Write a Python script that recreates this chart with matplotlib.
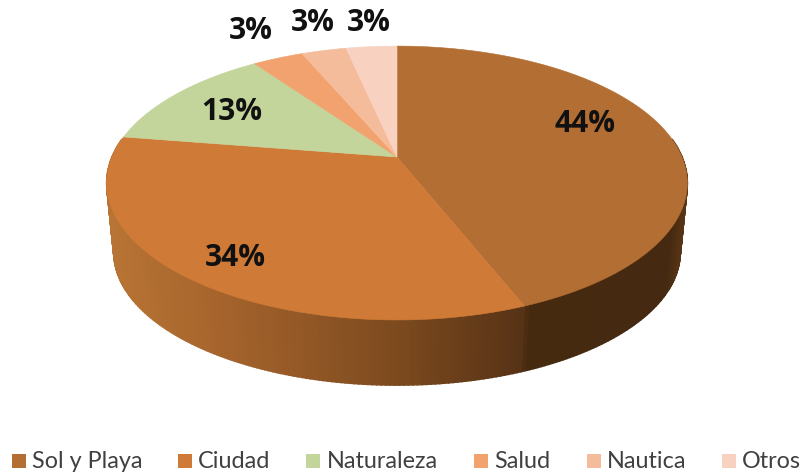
import numpy as np
import matplotlib
matplotlib.use("Agg")
import matplotlib.pyplot as plt
from matplotlib.patches import Rectangle
from matplotlib.colors import LinearSegmentedColormap

categories = ["Sol y Playa", "Ciudad", "Naturaleza", "Salud", "Nautica", "Otros"]
values = [44, 33.5, 12.7, 3.4, 3.0, 3.4]
labels = ["44%", "34%", "13%", "3%", "3%", "3%"]
colors = ["#b36e33", "#cf7b37", "#c3d59b", "#f2a26e", "#f5bc9c", "#f9d1c0"]

label_x = [585, 235, 232, 251, 313, 369]
label_y = [124, 258, 112, 31, 23, 23]
legend_box_x = [12, 178, 306, 474, 587, 722]
legend_text_x = [32, 198, 327, 494, 607, 742]

# perspective of the disc, in pixels
cx, cy = 397, 157
a_top, b_top = 285, 132
a_low, b_low, cy_low = 278, 128, 227
k = -0.19


def top(t):
    d = 1 + k * np.sin(t)
    return cx + a_top * np.cos(t) / d, cy + b_top * np.sin(t) / d


def low(t):
    d = 1 + k * np.sin(t)
    return cx + a_low * np.cos(t) / d, cy_low + b_low * np.sin(t) / d


fig = plt.figure(figsize=(8.03, 4.75), dpi=100)
ax = fig.add_axes([0, 0, 1, 1])
ax.set_xlim(0, 803)
ax.set_ylim(475, 0)
ax.axis("off")

# side wall, shaded in vertical bands
side = LinearSegmentedColormap.from_list(
    "side", [(0, "#b87434"), (0.2, "#a5632c"), (0.5, "#7c4a1e"), (0.715, "#573316"),
             (0.725, "#462a10"), (0.97, "#452910"), (1, "#5a3616")])
edges = np.radians(np.linspace(-8, 188, 260))
xmin, xmax = 107, 688
for t0, t1 in zip(edges[:-1], edges[1:]):
    x_a, y_a = top(t0)
    x_b, y_b = top(t1)
    x_c, y_c = low(t1)
    x_d, y_d = low(t0)
    shade = side((0.5 * (x_a + x_b) - xmin) / (xmax - xmin))
    ax.fill([x_a, x_b, x_c, x_d], [y_a, y_b, y_c, y_d], color=shade, lw=1.2, zorder=1)

# top face, slices clockwise from 12 o'clock
start = 0.0
total = sum(values)
for val, col in zip(values, colors):
    ang = np.radians(np.linspace(start, start + val / total * 360, 200) - 90)
    xs, ys = top(ang)
    ax.fill(np.r_[cx, xs], np.r_[cy, ys], color=col, lw=0.4, zorder=2)
    start += val / total * 360

for txt, x, y in zip(labels, label_x, label_y):
    ax.text(x, y, txt, family="Open Sans", fontweight="bold", fontsize=21.5, color="#111111",
            ha="center", va="center", zorder=3)

for name, col, bx, tx in zip(categories, colors, legend_box_x, legend_text_x):
    ax.add_patch(Rectangle((bx, 454), 14, 14, color=col, lw=0, zorder=3))
    ax.text(tx, 462, name, family="Lato", fontsize=16.8, color="#404040", ha="left", va="center")

fig.savefig("out.png", dpi=100, facecolor="white")
